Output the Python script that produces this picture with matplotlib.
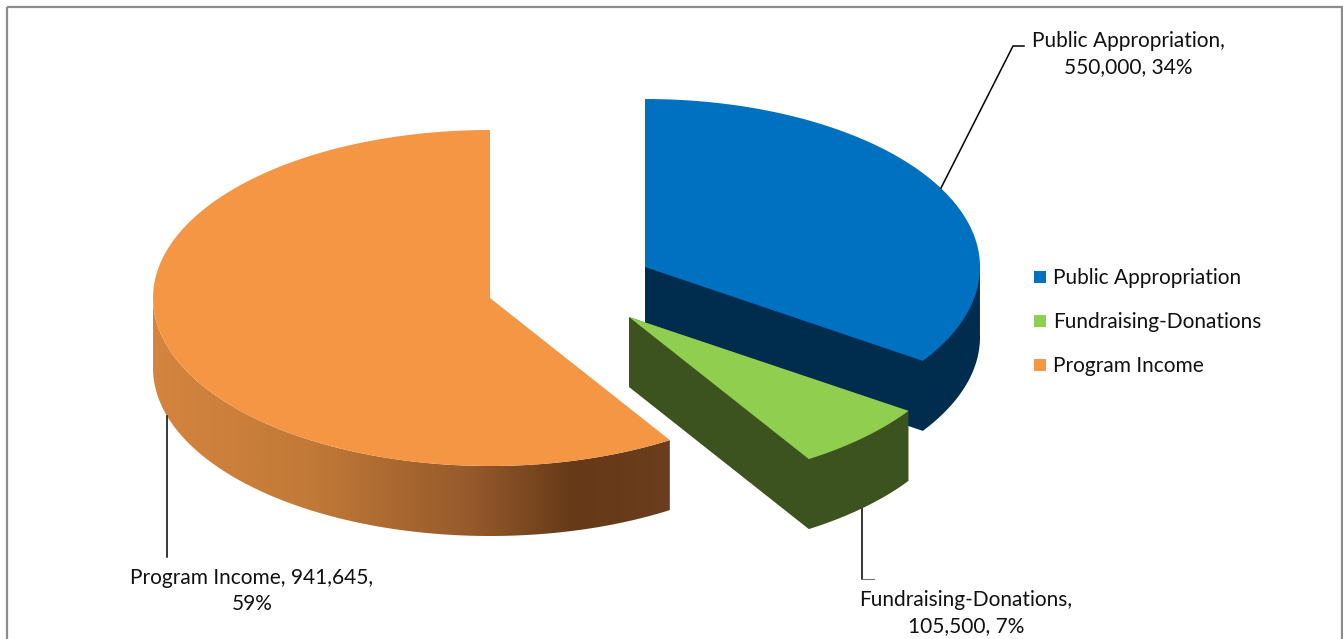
import numpy as np
import matplotlib
matplotlib.use('Agg')
import matplotlib.pyplot as plt
from matplotlib.patches import Polygon, Rectangle
from matplotlib.colors import LinearSegmentedColormap

plt.rcParams['font.family'] = ['Lato', 'DejaVu Sans']

labels = ['Public Appropriation', 'Fundraising-Donations', 'Program Income']
values = [550000, 105500, 941645]
percents = ['34%', '7%', '59%']
top_colors = ['#0070C0', '#8FCE4F', '#F49644']
side_colors = ['#002C4E', '#3C5320']

# pie centres, each slice is pulled out a bit
centers = [(645, 267), (629, 317), (490, 298)]
radii_x = [335, 337, 337]
RY = 168
DEPTH = 70

fig = plt.figure(figsize=(13.43, 6.39), dpi=100)
ax = fig.add_axes([0, 0, 1, 1])

ax.add_patch(Rectangle((7, 7), 1335, 660, fill=False, ec='#8c8c8c', lw=1.6, zorder=0))

# angles run clockwise from 12 o'clock
fracs = np.array(values) / sum(values)
edges = np.concatenate([[0], np.cumsum(fracs)]) * 2 * np.pi


def rim(i, a0, a1, n=200):
    cx, cy = centers[i]
    a = np.linspace(a0, a1, n)
    return np.column_stack([cx + radii_x[i] * np.sin(a), cy - RY * np.cos(a)])


def draw_flat_slice(i, z):
    # blue and green: wall and cut face are one outline in one colour
    cx, cy = centers[i]
    a0, a1 = edges[i], edges[i + 1]
    arc = rim(i, a0, a1)
    low = arc[np.cos(np.linspace(a0, a1, 200)) <= 0.02]
    side = np.vstack([[cx, cy], low[:1], low + [0, DEPTH], [cx, cy + DEPTH]])
    ax.add_patch(Polygon(side, fc=side_colors[i], ec='none', zorder=z))
    ax.add_patch(Polygon(np.vstack([[cx, cy], arc]), fc=top_colors[i], ec='none', zorder=z + 0.5))


def draw_shaded_slice(i, z):
    # orange: wall gets a left to right shade, clipped to its outline
    cx, cy = centers[i]
    a0, a1 = edges[i], edges[i + 1]
    front = rim(i, a0, 1.5 * np.pi, 300)
    x0, x1 = front[:, 0].min(), front[:, 0].max()
    wall = Polygon(np.vstack([front, (front + [0, DEPTH])[::-1]]), fc='none', ec='none',
                   transform=ax.transData)
    ax.add_patch(wall)
    shade = LinearSegmentedColormap.from_list(
        'side', [(0, '#D4853F'), (0.3, '#C27A38'), (0.62, '#95592B'),
                 (0.81, '#663A18'), (1, '#6A3E1E')])
    im = ax.imshow(np.linspace(0, 1, 512)[None, :], cmap=shade, vmin=0, vmax=1, aspect='auto',
                   extent=(x0, x1, 639, 0), zorder=z, interpolation='bilinear')
    im.set_clip_path(wall)
    top = np.vstack([[cx, cy], rim(i, a0, a1, 400)])
    ax.add_patch(Polygon(top, fc=top_colors[i], ec='none', zorder=z + 0.5))


draw_flat_slice(0, 2)
draw_shaded_slice(2, 2)
draw_flat_slice(1, 3)

# leader lines
ax.plot([941, 1013, 1024], [188, 46, 46], color='black', lw=1.1, zorder=5)
ax.plot([862, 862], [508, 579], color='black', lw=1.1, zorder=1)
ax.plot([862, 874], [579, 579], color='#777777', lw=0.8, zorder=1)
ax.plot([167, 167], [416, 557], color='black', lw=1.1, zorder=5)

# data labels
FS = 15
SP = 1.4
ax.text(1128, 54, labels[0] + ',\n' + f'{values[0]:,}, {percents[0]}', ha='center', va='center',
        fontsize=FS, color='#111111', linespacing=SP)
ax.text(966, 613, labels[1] + ',\n' + f'{values[1]:,}, {percents[1]}', ha='center', va='center',
        fontsize=FS, color='#111111', linespacing=SP)
ax.text(252, 591, labels[2] + f', {values[2]:,},\n{percents[2]}', ha='center', va='center',
        fontsize=FS, color='#111111', linespacing=SP)

# legend
for lab, col, y in zip(labels, top_colors, [277, 321, 365]):
    ax.add_patch(Rectangle((1034, y - 6), 12, 12, fc=col, ec='none'))
    ax.text(1053, y + 1, lab, ha='left', va='center', fontsize=FS, color='#111111')

ax.set_xlim(0, 1343)
ax.set_ylim(639, 0)
ax.axis('off')

fig.savefig('out.png', dpi=100)
